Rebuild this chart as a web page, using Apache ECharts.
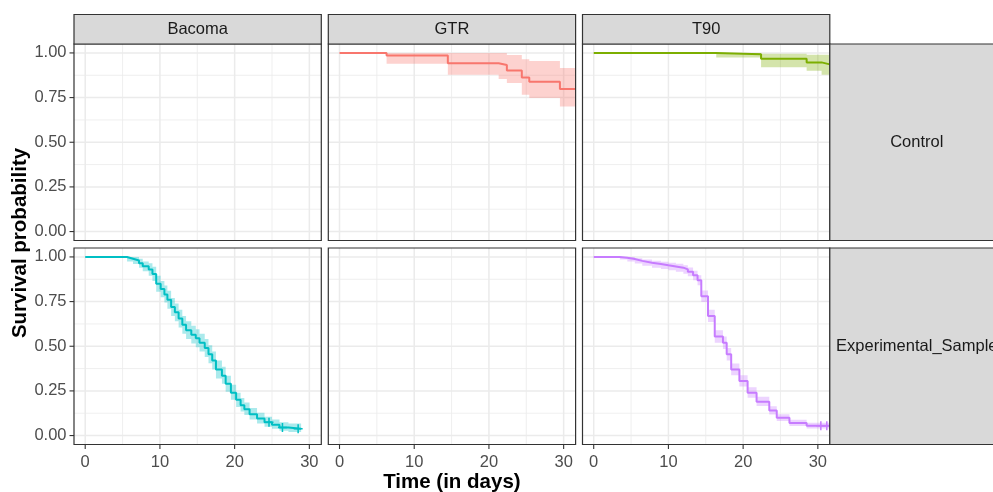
<!DOCTYPE html>
<html>
<head>
<meta charset="utf-8">
<script src="https://cdn.jsdelivr.net/npm/echarts@6/dist/echarts.min.js"></script>
<style>
html,body{margin:0;padding:0;background:#fff;}
#chart{width:993px;height:492px;}
</style>
</head>
<body>
<div id="chart"></div>
<script>
// ---------- data ----------
const colNames = ['Bacoma', 'GTR', 'T90'];
const rowNames = ['Control', 'Experimental_Sample'];
const xTicks = [0, 10, 20, 30];
const xMinor = [5, 15, 25];
const yTicks = [0, 0.25, 0.5, 0.75, 1];
const yMinor = [0.125, 0.375, 0.625, 0.875];

// GTR / Control
const gtrTime  = [0, 6.3, 14.5, 21.3, 22.4, 24.4, 25.4, 29.5];
const gtrSurv  = [1, 0.986, 0.942, 0.933, 0.902, 0.863, 0.839, 0.798];
const gtrLower = [1, 0.94, 0.878, 0.854, 0.832, 0.766, 0.748, 0.70];
const gtrUpper = [1, 1, 1, 1, 0.988, 0.965, 0.955, 0.916];
const gtrEnd = 31.6;
const gtrCensor = [];

// T90 / Control
const t90cTime  = [0, 16.4, 22.4, 28.5, 30.5];
const t90cSurv  = [1, 0.993, 0.968, 0.947, 0.936];
const t90cLower = [1, 0.975, 0.92, 0.9, 0.878];
const t90cUpper = [1, 1, 0.995, 0.99, 0.99];
const t90cEnd = 31.6;
const t90cCensor = [];

// Bacoma / Experimental_Sample
const bacTime  = [0, 5.6, 6.4, 7.2, 7.7, 8.5, 9.0, 9.5, 10.1, 10.6, 11.0, 11.5, 12.0, 12.5, 13.0, 13.5, 14.2, 14.8, 15.3, 16.0, 16.5, 17.0, 17.5, 18.3, 18.8, 19.5, 20.2, 20.8, 21.3, 22.0, 23.0, 24.0, 25.0, 26.0, 27.2];
const bacSurv  = [1, 0.99, 0.98, 0.965, 0.948, 0.93, 0.905, 0.85, 0.82, 0.79, 0.76, 0.72, 0.69, 0.655, 0.62, 0.59, 0.565, 0.545, 0.52, 0.49, 0.455, 0.42, 0.37, 0.335, 0.29, 0.24, 0.2, 0.17, 0.148, 0.12, 0.095, 0.075, 0.06, 0.045, 0.038];
const bacLower = [1, 0.975, 0.96, 0.94, 0.92, 0.895, 0.865, 0.805, 0.775, 0.745, 0.71, 0.67, 0.64, 0.605, 0.57, 0.54, 0.515, 0.495, 0.47, 0.44, 0.405, 0.37, 0.32, 0.29, 0.245, 0.2, 0.16, 0.135, 0.115, 0.09, 0.068, 0.05, 0.038, 0.027, 0.02];
const bacUpper = [1, 1, 1, 0.99, 0.975, 0.965, 0.945, 0.895, 0.865, 0.84, 0.81, 0.77, 0.74, 0.705, 0.67, 0.64, 0.615, 0.595, 0.57, 0.54, 0.505, 0.47, 0.42, 0.385, 0.335, 0.285, 0.24, 0.21, 0.185, 0.155, 0.128, 0.105, 0.09, 0.075, 0.068];
const bacEnd = 28.9;
const bacCensor = [24.6, 26.4, 28.5];

// T90 / Experimental_Sample
const t90eTime  = [0, 3.5, 4.5, 5.5, 6.5, 7.8, 9.0, 10.0, 11.0, 12.0, 12.6, 13.3, 13.9, 14.4, 15.3, 16.2, 17.3, 17.8, 18.4, 19.5, 20.6, 21.8, 23.5, 24.5, 26.2, 28.5];
const t90eSurv  = [1, 0.995, 0.988, 0.978, 0.968, 0.96, 0.953, 0.947, 0.94, 0.93, 0.917, 0.897, 0.87, 0.78, 0.67, 0.555, 0.52, 0.455, 0.37, 0.305, 0.24, 0.19, 0.14, 0.10, 0.07, 0.055];
const t90eLower = [1, 0.985, 0.975, 0.963, 0.95, 0.94, 0.932, 0.925, 0.917, 0.906, 0.892, 0.87, 0.842, 0.748, 0.636, 0.52, 0.485, 0.42, 0.337, 0.274, 0.212, 0.165, 0.118, 0.082, 0.054, 0.04];
const t90eUpper = [1, 1, 1, 0.993, 0.985, 0.978, 0.973, 0.968, 0.962, 0.953, 0.941, 0.923, 0.898, 0.812, 0.704, 0.59, 0.555, 0.49, 0.404, 0.337, 0.27, 0.217, 0.164, 0.12, 0.088, 0.072];
const t90eEnd = 31.6;
const t90eCensor = [30.4, 31.2];

// ---------- layout / style ----------
const FONT = 'Liberation Sans, Arial, Helvetica, sans-serif';
const colLeft = [74, 328.3, 582.5];
const colWidth = 247.3;
const rowTop = [44, 248];
const rowHeight = 196.5;
const stripTop = 14.5;
const stripH = 29.5;
const rightStripLeft = colLeft[2] + colWidth;
const rightStripW = 175;
const X_MIN = -1.5, X_MAX = 31.6, Y_MIN = -0.05, Y_MAX = 1.05;
const TICK_LEN = 4.5;

const curves = [
  { grid: 1, time: gtrTime, surv: gtrSurv, lower: gtrLower, upper: gtrUpper, end: gtrEnd, censor: gtrCensor, color: '#F8766D', band: 'rgba(248,118,109,0.33)' },
  { grid: 2, time: t90cTime, surv: t90cSurv, lower: t90cLower, upper: t90cUpper, end: t90cEnd, censor: t90cCensor, color: '#7CAE00', band: 'rgba(124,174,0,0.33)' },
  { grid: 3, time: bacTime, surv: bacSurv, lower: bacLower, upper: bacUpper, end: bacEnd, censor: bacCensor, color: '#00BFC4', band: 'rgba(0,191,196,0.33)' },
  { grid: 5, time: t90eTime, surv: t90eSurv, lower: t90eLower, upper: t90eUpper, end: t90eEnd, censor: t90eCensor, color: '#C77CFF', band: 'rgba(199,124,255,0.33)' }
];

const grids = [], xAxes = [], yAxes = [], series = [], graphics = [];

for (let r = 0; r < 2; r++) {
  for (let c = 0; c < 3; c++) {
    const idx = r * 3 + c;
    grids.push({ left: colLeft[c], top: rowTop[r], width: colWidth, height: rowHeight, show: false, containLabel: false });
    const bottom = r === 1;
    const left = c === 0;
    xAxes.push({
      gridIndex: idx, type: 'value', min: X_MIN, max: X_MAX,
      axisLine: { show: false }, splitLine: { show: false }, axisTick: { show: false },
      axisLabel: { show: bottom, customValues: xTicks, color: '#4D4D4D', fontSize: 16.5, fontFamily: FONT, margin: 9.5 }
    });
    yAxes.push({
      gridIndex: idx, type: 'value', min: Y_MIN, max: Y_MAX,
      axisLine: { show: false }, splitLine: { show: false }, axisTick: { show: false },
      axisLabel: { show: left, customValues: yTicks, color: '#4D4D4D', fontSize: 16.5, fontFamily: FONT, margin: 7.5,
        formatter: v => v.toFixed(2) }
    });
    // gridlines + tick marks
    series.push({
      type: 'custom', xAxisIndex: idx, yAxisIndex: idx, silent: true, z: 1, clip: false, data: [[0, 0]],
      renderItem: (params, api) => {
        const ch = [];
        const seg = (a, b, stroke, w) => ch.push({ type: 'line', shape: { x1: a[0], y1: a[1], x2: b[0], y2: b[1] }, style: { stroke: stroke, lineWidth: w } });
        xMinor.forEach(v => seg(api.coord([v, Y_MIN]), api.coord([v, Y_MAX]), '#EBEBEB', 0.8));
        yMinor.forEach(v => seg(api.coord([X_MIN, v]), api.coord([X_MAX, v]), '#EBEBEB', 0.8));
        xTicks.forEach(v => seg(api.coord([v, Y_MIN]), api.coord([v, Y_MAX]), '#EBEBEB', 1.5));
        yTicks.forEach(v => seg(api.coord([X_MIN, v]), api.coord([X_MAX, v]), '#EBEBEB', 1.5));
        if (bottom) xTicks.forEach(v => { const p = api.coord([v, Y_MIN]); seg([p[0], p[1]], [p[0], p[1] + TICK_LEN], '#333333', 1.1); });
        if (left) yTicks.forEach(v => { const p = api.coord([X_MIN, v]); seg([p[0] - TICK_LEN, p[1]], [p[0], p[1]], '#333333', 1.1); });
        return { type: 'group', children: ch };
      }
    });
    // panel border
    graphics.push({ type: 'rect', z: 100, shape: { x: colLeft[c], y: rowTop[r], width: colWidth, height: rowHeight },
      style: { fill: 'none', stroke: '#333333', lineWidth: 1.2 } });
  }
}

curves.forEach(cv => {
  const rows = cv.time.map((t, i) => [t, cv.lower[i], cv.upper[i]]);
  series.push({
    type: 'custom', xAxisIndex: cv.grid, yAxisIndex: cv.grid, silent: true, z: 2, clip: true,
    data: rows, encode: { x: 0, y: [1, 2] },
    renderItem: (params, api) => {
      if (params.dataIndex !== 0) return null;
      const pts = [];
      for (let i = 0; i < rows.length; i++) {
        const t1 = i + 1 < rows.length ? rows[i + 1][0] : cv.end;
        pts.push(api.coord([rows[i][0], rows[i][2]]));
        pts.push(api.coord([t1, rows[i][2]]));
      }
      for (let i = rows.length - 1; i >= 0; i--) {
        const t1 = i + 1 < rows.length ? rows[i + 1][0] : cv.end;
        pts.push(api.coord([t1, rows[i][1]]));
        pts.push(api.coord([rows[i][0], rows[i][1]]));
      }
      return { type: 'polygon', shape: { points: pts }, style: { fill: cv.band } };
    }
  });
  const lineData = cv.time.map((t, i) => [t, cv.surv[i]]);
  lineData.push([cv.end, cv.surv[cv.surv.length - 1]]);
  series.push({
    type: 'line', xAxisIndex: cv.grid, yAxisIndex: cv.grid, z: 3, step: 'end', showSymbol: false, silent: true,
    data: lineData, lineStyle: { color: cv.color, width: 2 }, itemStyle: { color: cv.color }
  });
  if (cv.censor.length) {
    const survAt = t => { let s = cv.surv[0]; for (let i = 0; i < cv.time.length; i++) if (cv.time[i] <= t) s = cv.surv[i]; return s; };
    series.push({
      type: 'scatter', xAxisIndex: cv.grid, yAxisIndex: cv.grid, z: 4, silent: true,
      symbol: 'path://M4.15,0 H5.85 V4.15 H10 V5.85 H5.85 V10 H4.15 V5.85 H0 V4.15 H4.15 Z',
      symbolSize: 9,
      data: cv.censor.map(t => [t, survAt(t)]), itemStyle: { color: cv.color, opacity: 1 }
    });
  }
});

// strips
for (let c = 0; c < 3; c++) {
  graphics.push({ type: 'rect', z: 101, shape: { x: colLeft[c], y: stripTop, width: colWidth, height: stripH },
    style: { fill: '#D9D9D9', stroke: '#333333', lineWidth: 1.2 } });
  graphics.push({ type: 'text', z: 102, x: colLeft[c] + colWidth / 2, y: stripTop + stripH / 2,
    style: { text: colNames[c], fill: '#1A1A1A', font: '16.5px ' + FONT, align: 'center', verticalAlign: 'middle' } });
}
for (let r = 0; r < 2; r++) {
  graphics.push({ type: 'rect', z: 101, shape: { x: rightStripLeft, y: rowTop[r], width: rightStripW, height: rowHeight },
    style: { fill: '#D9D9D9', stroke: '#333333', lineWidth: 1.2 } });
  graphics.push({ type: 'text', z: 102, x: rightStripLeft + rightStripW / 2 - 0.5, y: rowTop[r] + rowHeight / 2,
    style: { text: rowNames[r], fill: '#1A1A1A', font: '16.5px ' + FONT, align: 'center', verticalAlign: 'middle' } });
}
// axis titles
graphics.push({ type: 'text', z: 102, x: colLeft[0] + (colLeft[2] + colWidth - colLeft[0]) / 2, y: 482,
  style: { text: 'Time (in days)', fill: '#000000', font: 'bold 20.5px ' + FONT, align: 'center', verticalAlign: 'middle' } });
graphics.push({ type: 'text', z: 102, x: 20, y: 243, rotation: Math.PI / 2,
  style: { text: 'Survival probability', fill: '#000000', font: 'bold 20.5px ' + FONT, align: 'center', verticalAlign: 'middle' } });

const chart = echarts.init(document.getElementById('chart'), null, { renderer: 'canvas' });
chart.setOption({
  animation: false,
  backgroundColor: '#ffffff',
  grid: grids, xAxis: xAxes, yAxis: yAxes, series: series, graphic: graphics
});
</script>
</body>
</html>
